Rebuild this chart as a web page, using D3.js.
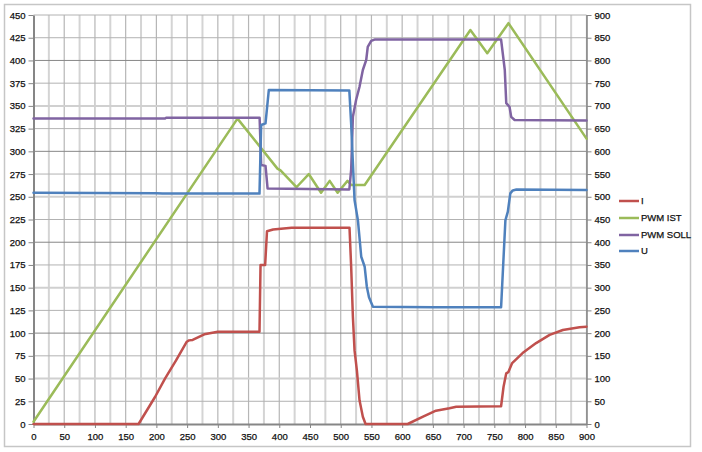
<!DOCTYPE html>
<html><head><meta charset="utf-8">
<script src="https://cdn.jsdelivr.net/npm/d3@7"></script>
<style>
html,body{margin:0;padding:0;background:#fff;}
svg{display:block;}
text{font-family:"Liberation Sans",Arial,sans-serif;}
</style></head>
<body>
<svg id="chart" width="702" height="452"></svg>
<script>
// ---- data ----
const seriesNames = ["I", "PWM IST", "PWM SOLL", "U"];
const seriesColors = ["#c0504d", "#9bbb59", "#8064a2", "#4f81bd"];
const xTicks = [0,50,100,150,200,250,300,350,400,450,500,550,600,650,700,750,800,850,900];
const leftTicks = [0,25,50,75,100,125,150,175,200,225,250,275,300,325,350,375,400,425,450];
const rightTicks = [0,50,100,150,200,250,300,350,400,450,500,550,600,650,700,750,800,850,900];

// I (left axis) : [time, value]
const seriesI = [[0,0],[171,0],[198,30],[214,50],[232,70],[249.5,90.5],[253,92],[259,92.5],[278,98.7],[300,101.6],[367.8,101.6],[369.5,175],[377,175],[380,212],[390,214],[420,216],[514.3,216],[517,173],[519.8,118],[522.5,81],[526.3,59],[530.6,26],[536,8],[540.4,0],[609,0],[634,8],[655,14.6],[677,17.3],[688,19],[761,19.5],[765,41],[769.4,55.8],[772.7,57],[779,67],[796,78],[818,89],[840,98],[861.5,103.4],[888.7,106.4],[900,107]];
// PWM IST (right axis)
const seriesPwmIst = [[0,5],[332,672],[397,562],[402,558],[428,521],[448,550],[468,509],[482,535],[495,509],[511,535],[517,526],[539,526],[711,867],[738.5,816],[773,882],[900,628]];
// PWM SOLL (right axis)
const seriesPwmSoll = [[0,672],[214,672],[216,674],[368,674],[370.5,570],[377.6,568],[381,518],[514,516],[517,560],[519.8,676],[525,713],[530.6,742],[536,779],[541.5,801],[544,830],[549.6,843],[555,846],[761,846],[767,779],[769.4,706],[774.7,698],[777.4,676],[783,669],[900,668]];
// U (left axis)
const seriesU = [[0,254.5],[200,254],[210,253.5],[367.8,253.5],[370.5,329],[377.6,330.8],[383,367.5],[514,367],[517,330],[519.8,287],[522.5,246.5],[528,224],[533.4,184],[539,173],[542.5,151],[546,139.4],[552.4,129],[650,128.5],[761,128.4],[768,224],[772,233.6],[776,253.8],[780,257],[786,258],[900,257.5]];

// ---- layout ----
const svg = d3.select("#chart");
const L = 33.5, R = 586.5, T = 15, B = 424;
const x = d3.scaleLinear().domain([0,900]).range([L,R]);
const yL = d3.scaleLinear().domain([0,450]).range([B,T]);
const yR = d3.scaleLinear().domain([0,900]).range([B,T]);

// outer frame
svg.append("rect").attr("x",4.5).attr("y",4.5).attr("width",686).attr("height",442)
  .attr("fill","#fff").attr("stroke","#c6c6c6").attr("stroke-width",1.5);

// grid
const g = svg.append("g");
d3.range(25,901,25).forEach(v=>{
  const major = v%50===0;
  g.append("line").attr("x1",x(v)).attr("x2",x(v)).attr("y1",T).attr("y2",B)
    .attr("stroke", major? "#b6b6b6":"#d4d4d4").attr("stroke-width", major?1.2:2);
});
d3.range(25,451,25).forEach(v=>{
  let c="#b2b2b2", w=1;
  if(v%100===0){c="#878787";w=1;}
  else if(v%50===0 && v!==450){c="#d0d0d0";w=2;}
  g.append("line").attr("x1",L).attr("x2",R).attr("y1",yL(v)).attr("y2",yL(v))
    .attr("stroke",c).attr("stroke-width",w);
});

// axes
function styleAxis(sel){
  sel.select(".domain").attr("stroke","#868686").attr("stroke-width",2);
  sel.selectAll(".tick line").attr("stroke","#868686");
  sel.selectAll(".tick text").attr("fill","#111").attr("stroke","#111").attr("stroke-width",0.25)
    .style("font-size","9.5px").style("font-family","'Liberation Sans',Arial,sans-serif");
}
const axL = svg.append("g").attr("transform",`translate(${L},0)`)
  .call(d3.axisLeft(yL).tickValues(leftTicks).tickSize(5).tickSizeOuter(0).tickPadding(3));
styleAxis(axL);
const axB = svg.append("g").attr("transform",`translate(0,${B})`)
  .call(d3.axisBottom(x).tickValues(xTicks).tickSize(4).tickSizeOuter(0).tickPadding(5));
styleAxis(axB);
const axR = svg.append("g").attr("transform",`translate(${R},0)`)
  .call(d3.axisRight(yR).tickValues(rightTicks).tickSize(5).tickSizeOuter(0).tickPadding(3));
styleAxis(axR);
axR.select(".domain").attr("stroke-width",1.5);

// lines
const lineL = d3.line().x(d=>x(d[0])).y(d=>yL(d[1]));
const lineR = d3.line().x(d=>x(d[0])).y(d=>yR(d[1]));
const datas = [[seriesI,lineL],[seriesPwmIst,lineR],[seriesPwmSoll,lineR],[seriesU,lineL]];
datas.forEach((s,i)=>{
  svg.append("path").datum(s[0]).attr("d",s[1]).attr("fill","none")
    .attr("stroke",seriesColors[i]).attr("stroke-width",2.5)
    .attr("stroke-linejoin","round").attr("stroke-linecap","round");
});

// legend
const legY = [201,218,235,251];
seriesNames.forEach((n,i)=>{
  svg.append("line").attr("x1",619).attr("x2",639).attr("y1",legY[i]).attr("y2",legY[i])
    .attr("stroke",seriesColors[i]).attr("stroke-width",2.5);
  svg.append("text").attr("x",641).attr("y",legY[i]).attr("dy","0.35em")
    .attr("fill","#111").attr("stroke","#111").attr("stroke-width",0.25)
    .style("font-size","9.5px").text(n);
});
</script>
</body></html>
